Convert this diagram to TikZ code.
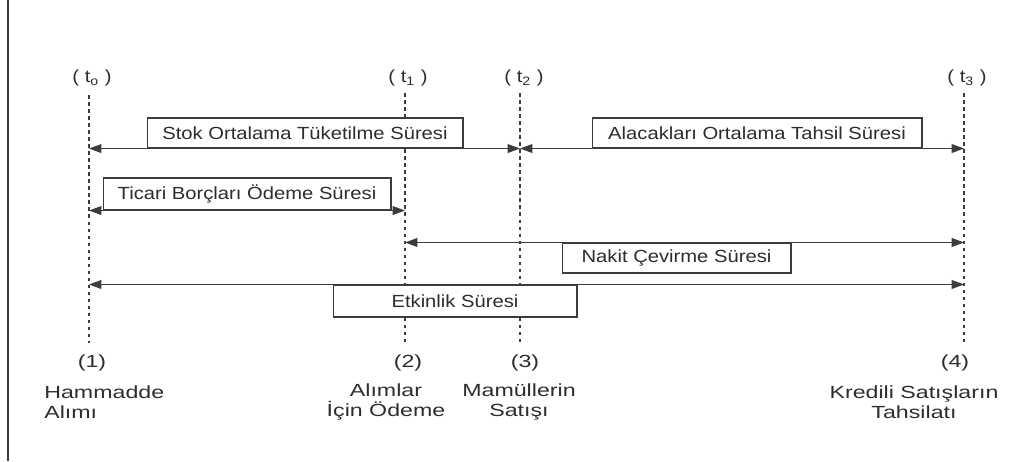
\documentclass[tikz,border=0pt]{standalone}
\usepackage{fontspec}
\setmainfont{Liberation Sans}[FakeStretch=1.15]
\newfontfamily\eventfont{Liberation Sans}[FakeStretch=1.32]
\usetikzlibrary{arrows.meta,positioning}
\definecolor{tlgray}{RGB}{60,60,60}
\definecolor{tltext}{RGB}{45,45,45}
\tikzstyle{durbox} = [rectangle, draw=tlgray, fill=white, line width=0.6pt, inner sep=0pt, text centered, font=\fontsize{10}{11.5}\selectfont, text=tltext]
\tikzstyle{durarrow} = [line width=0.6pt, draw=tlgray, {Triangle[length=7pt,width=5pt]}-{Triangle[length=7pt,width=5pt]}]
\tikzstyle{timeline} = [line width=1pt, dash pattern=on 2pt off 2pt, draw=tlgray]
\tikzstyle{timetag} = [inner sep=0pt, font=\fontsize{10}{11.5}\selectfont, text=tltext]
\tikzstyle{eventtext} = [inner sep=0pt, font=\eventfont\fontsize{10}{11.4}\selectfont, text=tltext]

\begin{document}
\begin{tikzpicture}[x=0.02cm, y=-0.02cm]
\useasboundingbox (0,0) rectangle (1027,461);
% left border
\draw[line width=1.2pt, tlgray] (8,0) -- (8,461);

% time points
\node (t0) [timetag] at (92,78) {( t\textsubscript{o} )};
\node (t1) [timetag] at (408,78) {( t\textsubscript{1} )};
\node (t2) [timetag] at (524,78) {( t\textsubscript{2} )};
\node (t3) [timetag] at (967,78) {( t\textsubscript{3} )};
\coordinate (t0top) at (89,95);  \coordinate (t0bot) at (89,343);
\coordinate (t1top) at (405,93); \coordinate (t1bot) at (405,343);
\coordinate (t2top) at (520,93); \coordinate (t2bot) at (520,343);
\coordinate (t3top) at (964,93); \coordinate (t3bot) at (964,343);
\draw[timeline] (t0top) -- (t0bot);
\draw[timeline] (t1top) -- (t1bot);
\draw[timeline] (t2top) -- (t2bot);
\draw[timeline] (t3top) -- (t3bot);

% period boxes
\node (stok) [durbox, minimum width=6.32cm, minimum height=0.6cm] at (305,133) {Stok Ortalama Tüketilme Süresi};
\node (alacak) [durbox, minimum width=6.6cm, minimum height=0.6cm] at (757,133) {Alacakları Ortalama Tahsil Süresi};
\node (ticari) [durbox, minimum width=5.76cm, minimum height=0.64cm] at (247,194) {Ticari Borçları Ödeme Süresi};
\node (nakit) [durbox, minimum width=4.58cm, minimum height=0.6cm] at (676.5,258) {Nakit Çevirme Süresi};
\node (etkinlik) [durbox, minimum width=4.88cm, minimum height=0.64cm] at (455,301) {Etkinlik Süresi};

% arrows
\draw[durarrow] (t0top |- stok.south) -- (t2top |- stok.south);
\draw[durarrow] (t2top |- alacak.south) -- (t3top |- alacak.south);
\draw[durarrow] (t0top |- ticari.south) -- (t1top |- ticari.south);
\draw[durarrow] (t1top |- nakit.north) -- (t3top |- nakit.north);
\draw[durarrow] (t0top |- etkinlik.north) -- (t3top |- etkinlik.north);

% events
\node (e1) [eventtext] at (92,363) {(1)};
\node (e2) [eventtext] at (408,363) {(2)};
\node (e3) [eventtext] at (525,363) {(3)};
\node (e4) [eventtext] at (955,363) {(4)};
\node (e1txt) [eventtext, anchor=west, align=left] at (44,402) {Hammadde\\Alımı};
\node (e2txt) [eventtext, align=center] at (386,402) {Alımlar\\İçin Ödeme};
\node (e3txt) [eventtext, align=center] at (519,402) {Mamüllerin\\Satışı};
\node (e4txt) [eventtext, align=center] at (914,402) {Kredili Satışların\\Tahsilatı};
\end{tikzpicture}
\end{document}
